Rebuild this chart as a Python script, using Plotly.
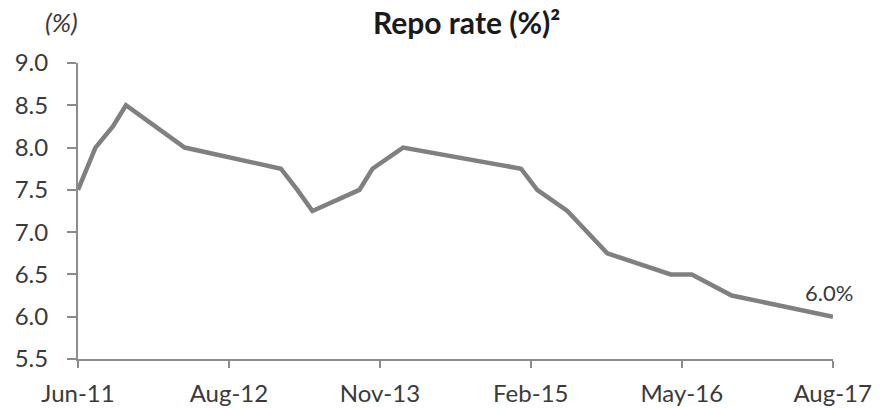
import plotly.graph_objects as go

# Rate-change dates and repo rate values (%)
dates = ["2011-06-04", "2011-07-26", "2011-09-16", "2011-10-25", "2012-04-17",
         "2013-01-29", "2013-03-19", "2013-05-03", "2013-09-20", "2013-10-29",
         "2014-01-28", "2015-01-15", "2015-03-04", "2015-06-02", "2015-09-29",
         "2016-04-05", "2016-06-07", "2016-10-04", "2017-08-02"]
rates = [7.5, 8.0, 8.25, 8.5, 8.0,
         7.75, 7.5, 7.25, 7.5, 7.75,
         8.0, 7.75, 7.5, 7.25, 6.75,
         6.5, 6.5, 6.25, 6.0]

title_text = "Repo rate (%)²"
unit_text = "(%)"

FONT = "Lato, Carlito, Calibri, sans-serif"
LINE_COLOR = "#808080"
AXIS_COLOR = "#8c8c8c"
TEXT_COLOR = "#3a3a3a"

fig = go.Figure()
fig.add_trace(go.Scatter(
    x=dates, y=rates, mode="lines",
    line=dict(color=LINE_COLOR, width=4.5),
    hoverinfo="skip", showlegend=False,
))

fig.update_layout(
    width=882, height=408,
    margin=dict(l=78, r=49, t=63, b=49),
    paper_bgcolor="white", plot_bgcolor="white",
    font=dict(family=FONT, color=TEXT_COLOR, size=24),
    xaxis=dict(
        type="date", automargin=False,
        range=[dates[0], dates[-1]],
        tick0=dates[0], dtick=450 * 86400000,
        tickformat="%b-%y",
        showgrid=False, zeroline=False,
        showline=True, linecolor=AXIS_COLOR, linewidth=2,
        ticks="outside", ticklen=7, tickwidth=2, tickcolor=AXIS_COLOR,
        tickfont=dict(size=24, color=TEXT_COLOR),
        ticklabelstandoff=5,
    ),
    yaxis=dict(
        automargin=False,
        range=[5.5, 9.0], dtick=0.5, tick0=5.5, tickformat=".1f",
        showgrid=False, zeroline=False,
        showline=True, linecolor=AXIS_COLOR, linewidth=2,
        ticks="outside", ticklen=9, tickwidth=2, tickcolor=AXIS_COLOR,
        tickfont=dict(size=24, color=TEXT_COLOR),
        ticklabelstandoff=14,
    ),
    annotations=[
        dict(text="<b>" + title_text + "</b>", xref="paper", yref="paper",
             x=0.515, y=1.14, xanchor="center", yanchor="middle",
             showarrow=False, font=dict(size=30, color="#1a1a1a", family=FONT)),
        dict(text="<i>" + unit_text + "</i>", xref="paper", yref="paper",
             x=-0.0225, y=1.14, xanchor="center", yanchor="middle",
             showarrow=False, font=dict(size=26, color=TEXT_COLOR, family=FONT)),
        dict(text=f"{rates[-1]:.1f}%", xref="x", yref="y",
             x=dates[-1], y=rates[-1], xanchor="center", yanchor="middle",
             xshift=-4, yshift=24, showarrow=False,
             font=dict(size=22, color=TEXT_COLOR, family=FONT)),
    ],
)

# remove the default 8px page margin so the figure fills the window exactly
fig.write_html(
    "out.html",
    config={"displayModeBar": False, "staticPlot": True},
    post_script="document.body.style.margin='0';document.documentElement.style.overflow='hidden';",
)
